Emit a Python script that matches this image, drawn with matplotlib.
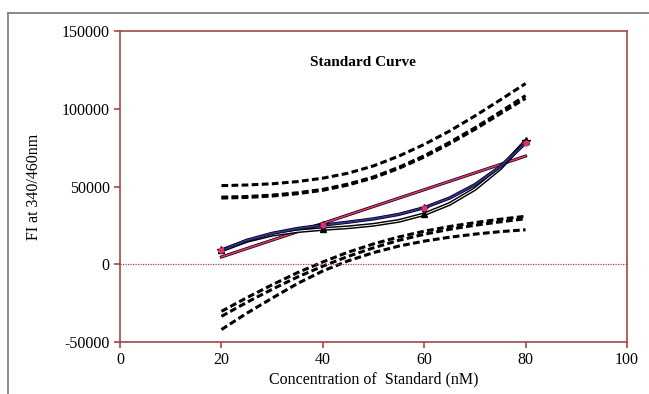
import matplotlib
matplotlib.use("Agg")
import matplotlib.pyplot as plt
from matplotlib.lines import Line2D

plt.rcParams['font.family'] = ['Liberation Serif', 'DejaVu Serif']
plt.rcParams['axes.unicode_minus'] = False

# concentrations (nM)
conc = [20, 40, 60, 80]
curve_x = [20, 25, 30, 35, 40, 45, 50, 55, 60, 65, 70, 75, 80]

# measured points
fi_circle = [8900, 25200, 36400, 78000]
fi_triangle = [8900, 22700, 32200, 79300]
fi_star = [8900, 25200, 36400, 79300]

# fitted curves
fit_blue = [8900, 15400, 19900, 23000, 25200, 27100, 29200, 32100, 36400, 42600, 51200, 62800, 78000]
fit_black = [8900, 15000, 19000, 21300, 22700, 23800, 25400, 27900, 32200, 38800, 48400, 61700, 79300]
lin_x = [20, 80]
lin_y = [4700, 69600]

# confidence bands
band_a = [50600, 51000, 51800, 53200, 55400, 58600, 63300, 69600, 77100, 85700, 95400, 105700, 116300]
band_b1 = [43200, 43600, 44500, 46000, 48200, 51600, 56200, 62400, 69800, 78400, 87800, 98000, 108500]
band_b2 = [42600, 43000, 43900, 45400, 47600, 51000, 55600, 61700, 69000, 77500, 86800, 96800, 106800]
band_c1 = [-30300, -21500, -13200, -5400, 1500, 7800, 13100, 17600, 21300, 24300, 26800, 29000, 30900]
band_c2 = [-33500, -24500, -16100, -8200, -1200, 5100, 10600, 15400, 19300, 22500, 25100, 27300, 29300]
band_d = [-42000, -31500, -21800, -12400, -4300, 2200, 7500, 11700, 14900, 17400, 19400, 21000, 22200]

frame = '#a04848'

fig = plt.figure(figsize=(6.49, 3.94), dpi=100)
ax = fig.add_axes([0.185, 0.132, 0.781, 0.789])

dash = (0, (2.2, 1.1))
for b in [band_a, band_b1, band_b2, band_c1, band_c2, band_d]:
    ax.plot(curve_x, b, color='black', lw=2.2, linestyle=dash)

ax.axhline(0, color=frame, lw=0.9, linestyle=(0, (1, 1)))

# linear fit
ax.plot(lin_x, lin_y, color='black', lw=2.2)
ax.plot(lin_x, lin_y, color='#e0307a', lw=1.2)

# cubic fits
ax.plot(curve_x, fit_black, color='black', lw=2.8)
ax.plot(curve_x, fit_black, color='white', lw=0.7)
ax.plot(curve_x, fit_blue, color='black', lw=2.4)
ax.plot(curve_x, fit_blue, color='#3030a0', lw=1.3)

ax.plot(conc, fi_triangle, linestyle='none', marker='^', color='black', ms=5)
ax.plot(conc, fi_star, linestyle='none', marker='*', color='black', ms=6)
ax.plot(conc, fi_circle, linestyle='none', marker='o', color='#e0307a', ms=3.5)

ax.set_xlim(0, 100)
ax.set_ylim(-50000, 150000)
ax.set_xticks([0, 20, 40, 60, 80, 100])
ax.set_yticks([-50000, 0, 50000, 100000, 150000])
for s in ax.spines.values():
    s.set_color(frame)
    s.set_linewidth(1.2)
ax.tick_params(direction='out', length=4, width=1.2, color=frame, labelsize=11.5, labelcolor='black')

ax.set_xlabel('Concentration of  Standard (nM)', fontsize=11.5, labelpad=2)
ax.set_ylabel('FI at 340/460nm', fontsize=11.5, labelpad=14)
ax.text(0.48, 0.9, 'Standard Curve', transform=ax.transAxes, ha='center', va='center',
        fontsize=11, fontweight='bold')

# outer grey border of the figure panel
fig.add_artist(Line2D([8 / 649, 1], [1 - 13 / 394, 1 - 13 / 394], color='#777777', lw=1.2))
fig.add_artist(Line2D([8 / 649, 8 / 649], [0, 1 - 13 / 394], color='#777777', lw=1.2))

fig.savefig('out.png', dpi=100)
